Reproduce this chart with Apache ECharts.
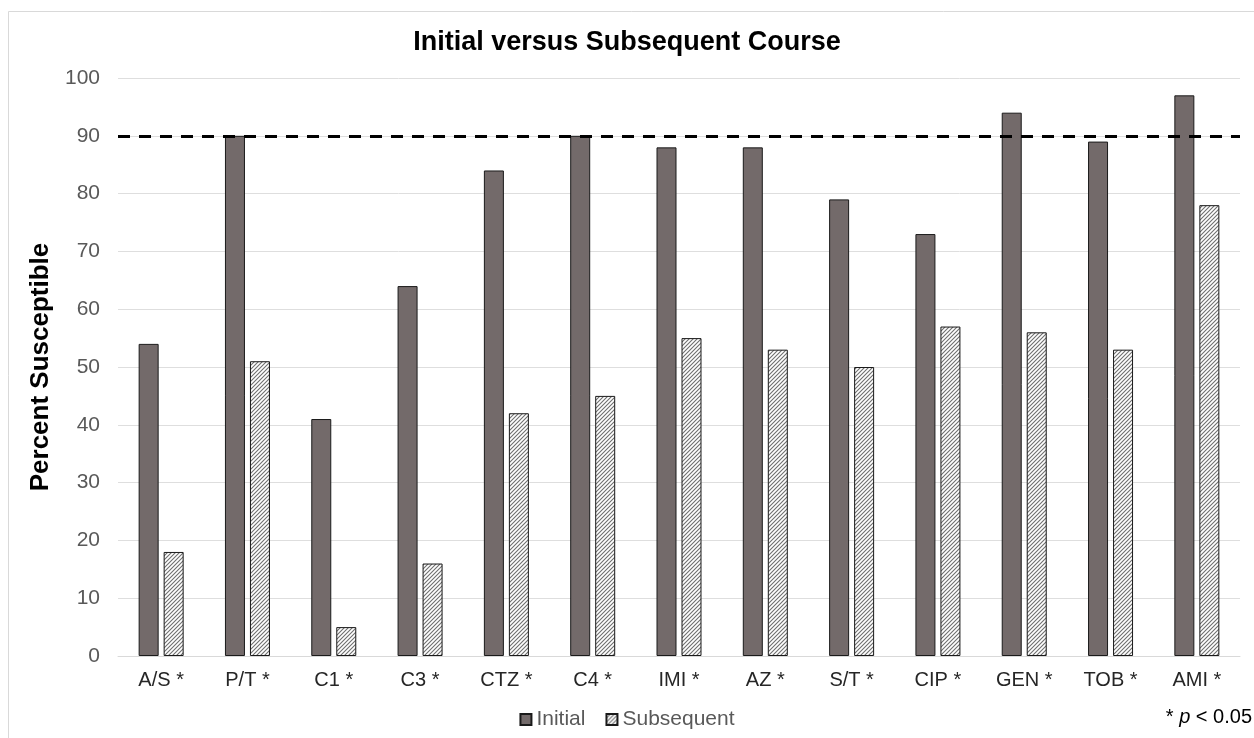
<!DOCTYPE html>
<html>
<head>
<meta charset="utf-8">
<script src="https://cdn.jsdelivr.net/npm/echarts@6/dist/echarts.min.js"></script>
<style>
html,body{margin:0;padding:0;background:#fff;}
#chart{width:1254px;height:738px;}
</style>
</head>
<body>
<div id="chart"></div>
<script>
const categories = ['A/S *','P/T *','C1 *','C3 *','CTZ *','C4 *','IMI *','AZ *','S/T *','CIP *','GEN *','TOB *','AMI *'];
const initialValues = [54, 90, 41, 64, 84, 90, 88, 88, 79, 73, 94, 89, 97];
const subsequentValues = [18, 51, 5, 16, 42, 45, 55, 53, 50, 57, 56, 53, 78];
const yTicks = [0,10,20,30,40,50,60,70,80,90,100];
const thresholdValue = 90;

function makeHatch() {
  const c = document.createElement('canvas');
  c.width = 4; c.height = 4;
  const ctx = c.getContext('2d');
  ctx.fillStyle = '#ffffff';
  ctx.fillRect(0,0,4,4);
  ctx.strokeStyle = '#6f6f6f';
  ctx.lineWidth = 1.1;
  ctx.beginPath();
  ctx.moveTo(-1,5); ctx.lineTo(5,-1);
  ctx.moveTo(-1,1); ctx.lineTo(1,-1);
  ctx.moveTo(3,5); ctx.lineTo(5,3);
  ctx.stroke();
  return c;
}
const hatch = {image: makeHatch(), repeat: 'repeat'};

const chart = echarts.init(document.getElementById('chart'), null, {renderer:'canvas'});
const font = '"Liberation Sans", Arial, sans-serif';
chart.setOption({
  animation: false,
  backgroundColor: '#ffffff',
  textStyle: {fontFamily: font},
  title: {
    text: 'Initial versus Subsequent Course',
    left: 'center', top: 24,
    textStyle: {fontFamily: font, fontSize: 27, fontWeight: 'bold', color: '#000'}
  },
  graphic: [
    {type:'rect', shape:{x:8.5, y:11.5, width:1260, height:740}, style:{fill:null, stroke:'#d9d9d9', lineWidth:1}, silent:true},
    {type:'text', right: 2, top: 707, style:{
      text: '{a|* }{b|p}{a| < 0.05}',
      rich: {
        a: {fontFamily: font, fontSize: 20, fill:'#000'},
        b: {fontFamily: font, fontSize: 20, fontStyle:'italic', fill:'#000'}
      }
    }}
  ],
  legend: {
    data: ['Initial','Subsequent'],
    bottom: 3, left: 'center',
    itemWidth: 11, itemHeight: 11, itemGap: 20,
    textStyle: {fontFamily: font, fontSize: 21, color:'#595959'},
    icon: 'rect'
  },
  grid: {left: 118, right: 14, top: 78, bottom: 82, containLabel: false},
  xAxis: {
    type: 'category',
    data: categories,
    axisLine: {lineStyle:{color:'#d9d9d9', width:1}},
    axisTick: {show:false},
    axisLabel: {fontFamily: font, fontSize: 20, color:'#262626', margin: 14}
  },
  yAxis: {
    type: 'value',
    min: yTicks[0], max: yTicks[yTicks.length-1], interval: 10,
    name: 'Percent Susceptible',
    nameLocation: 'middle', nameGap: 64,
    nameTextStyle: {fontFamily: font, fontSize: 26, fontWeight:'bold', color:'#000'},
    axisLine: {show:false},
    axisTick: {show:false},
    axisLabel: {fontFamily: font, fontSize: 21, color:'#595959', margin: 18},
    splitLine: {lineStyle:{color:'#dedede', width:1}}
  },
  series: [
    {
      name: 'Initial', type: 'bar', data: initialValues,
      barWidth: 20, barGap: '25%',
      itemStyle: {color:'#736a6a', borderColor:'#1a1a1a', borderWidth:1}
    },
    {
      name: 'Subsequent', type: 'bar', data: subsequentValues,
      barWidth: 20,
      itemStyle: {color: hatch, borderColor:'#1a1a1a', borderWidth:1},
      markLine: {
        silent: true, symbol: 'none', z: 10,
        label: {show:false},
        lineStyle: {color:'#000', type:[12,9], width:3},
        data: [{yAxis: thresholdValue}]
      }
    }
  ]
});
</script>
</body>
</html>
